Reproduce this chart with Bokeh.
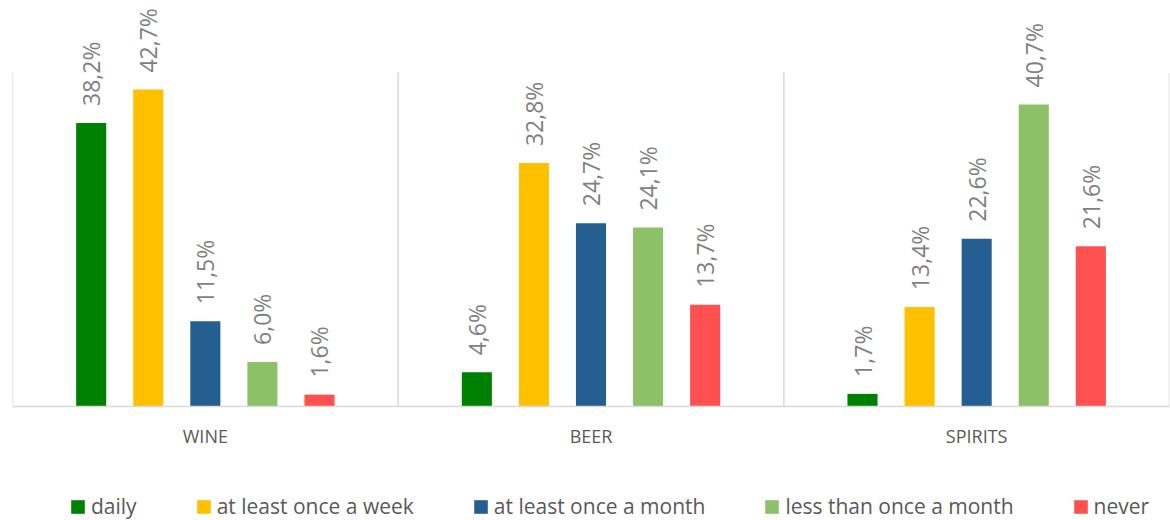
import math
from bokeh.plotting import figure
from bokeh.models import (ColumnDataSource, FactorRange, Range1d, Legend, LegendItem, Span)
from bokeh.transform import dodge
from bokeh.core.properties import value
from bokeh.embed import file_html
from bokeh.resources import INLINE

# ---- data ----
categories = ["WINE", "BEER", "SPIRITS"]
series = ["daily", "at least once a week", "at least once a month",
          "less than once a month", "never"]
daily = [38.2, 4.6, 1.7]
weekly = [42.7, 32.8, 13.4]
monthly = [11.5, 24.7, 22.6]
less_monthly = [6.0, 24.1, 40.7]
never = [1.6, 13.7, 21.6]
colors = ["#008000", "#FFC000", "#255E91", "#8CC168", "#FF5050"]
axis_max = 45

values = [daily, weekly, monthly, less_monthly, never]
keys = ["s0", "s1", "s2", "s3", "s4"]

data = {"cat": categories}
for k, v in zip(keys, values):
    data[k] = v
    data[k + "_lbl"] = [("%.1f%%" % x).replace(".", ",") for x in v]
source = ColumnDataSource(data)

FONT = "Open Sans"

p = figure(x_range=FactorRange(*categories), y_range=Range1d(-15.36, 54.7),
           width=1170, height=520, output_backend="svg", toolbar_location=None,
           x_axis_location=None, y_axis_location=None,
           min_border_left=12, min_border_right=1,
           min_border_top=0, min_border_bottom=0)
p.outline_line_color = None
p.xgrid.visible = False
p.ygrid.visible = False

# category separators
bounds = list(range(len(categories) + 1))
sep = ColumnDataSource(dict(x=bounds, y0=[0] * len(bounds), y1=[axis_max] * len(bounds)))
p.segment(x0="x", y0="y0", x1="x", y1="y1", source=sep,
          line_color="#d9d9d9", line_width=1.5)

# baseline (category axis line)
p.add_layout(Span(location=0, dimension="width", line_color="#d9d9d9", line_width=1.5))

offsets = [-0.296, -0.148, 0.0, 0.148, 0.296]
items = []
for k, name, col, off in zip(keys, series, colors, offsets):
    r = p.vbar(x=dodge("cat", off, range=p.x_range), top=k, width=0.078,
               source=source, fill_color=col, line_color=None)
    p.text(x=dodge("cat", off, range=p.x_range), y=k, text=k + "_lbl",
           source=source, angle=math.pi / 2, text_align="left",
           text_baseline="middle", y_offset=-17,
           text_font=value(FONT), text_font_size="23px", text_color="#7f7f7f")
    items.append(LegendItem(label=name, renderers=[r]))

# category labels under the baseline
p.text(x="cat", y=0, text="cat", source=source, text_align="center",
       text_baseline="alphabetic", y_offset=30,
       text_font=value(FONT), text_font_size="18px", text_color="#595959")

legend = Legend(items=items, orientation="horizontal", location=(57, 0),
                padding=0, margin=0, spacing=58, label_standoff=5,
                glyph_width=17, glyph_height=17,
                label_text_font=FONT, label_text_font_size="21px",
                label_text_color="#595959",
                border_line_color=None, background_fill_alpha=0)
p.add_layout(legend)

open("out.html", "w").write(file_html(p, INLINE))
